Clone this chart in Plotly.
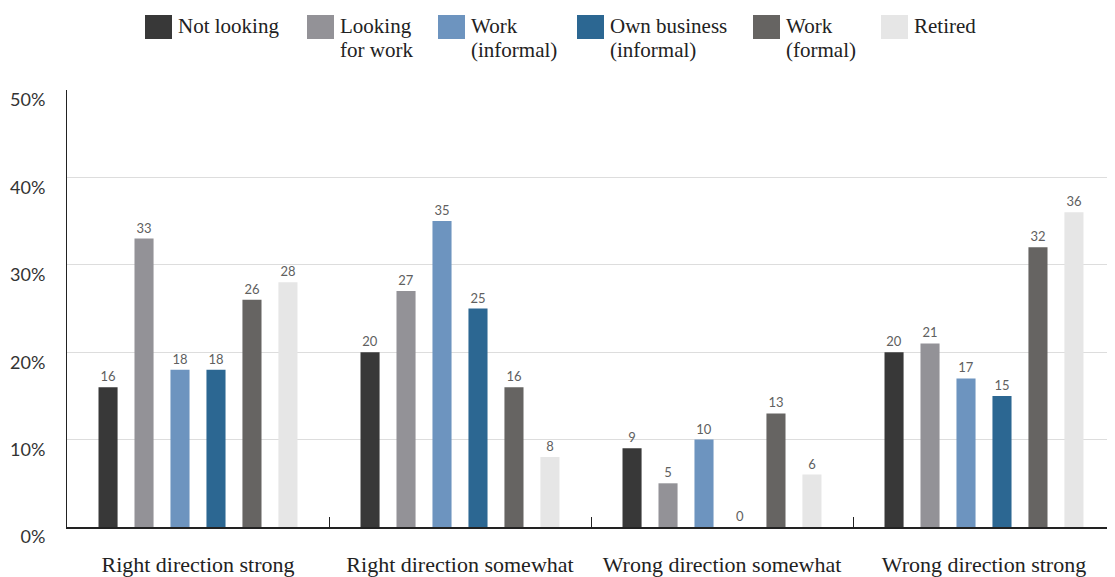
import plotly.graph_objects as go

categories = ["Right direction strong", "Right direction somewhat",
              "Wrong direction somewhat", "Wrong direction strong"]
series_names = ["Not looking", "Looking<br>for work", "Work<br>(informal)",
                "Own business<br>(informal)", "Work<br>(formal)", "Retired"]
series_values = [
    [16, 20, 9, 20],
    [33, 27, 5, 21],
    [18, 35, 10, 17],
    [18, 25, 0, 15],
    [26, 16, 13, 32],
    [28, 8, 6, 36],
]
colors = ["#383838", "#939297", "#6d94bf", "#2c6792", "#666462", "#e6e6e6"]
y_ticks = [0, 10, 20, 30, 40, 50]
y_tick_labels = ["0%", "10%", "20%", "30%", "40%", "50%"]

fig = go.Figure()
for name, vals, col in zip(series_names, series_values, colors):
    fig.add_trace(go.Bar(
        x=categories, y=vals, name=name.replace("<br>", " "),
        marker=dict(color=col, line=dict(width=0)),
        text=[str(v) for v in vals], textposition="outside",
        textfont=dict(family="Lato", size=13, color="#606060"),
        cliponaxis=False, showlegend=False,
    ))

# page body has an 8px margin: compensate
OFF = 8
W, H = 1115 - OFF, 577 - OFF
ml, mr, mt, mb = 67 - OFF, 0, 90 - OFF, 50
pw, ph = W - ml - mr, H - mt - mb

# custom legend (swatches + labels), screen x positions
leg_x = [145, 307, 438, 577, 753, 881]
for lx, name, col in zip(leg_x, series_names, colors):
    sx = lx - OFF
    x0 = (sx - ml) / pw
    x1 = (sx + 27 - ml) / pw
    y0 = (H - mb - (39 - OFF)) / ph
    y1 = (H - mb - (15 - OFF)) / ph
    fig.add_shape(type="rect", xref="paper", yref="paper", x0=x0, x1=x1,
                  y0=y0, y1=y1, fillcolor=col, line=dict(width=0))
    for i, line in enumerate(name.split("<br>")):
        cy = 26 + 24 * i - OFF
        fig.add_annotation(xref="paper", yref="paper", x=(sx + 31 - ml) / pw,
                           y=(H - mb - cy) / ph, xanchor="left", yanchor="middle",
                           text=line, showarrow=False, align="left",
                           font=dict(family="Liberation Serif", size=21, color="#222222"))

fig.update_layout(
    width=W, height=H,
    margin=dict(l=ml, r=mr, t=mt, b=mb, pad=0, autoexpand=False),
    plot_bgcolor="white", paper_bgcolor="white",
    barmode="group", bargap=0.176, bargroupgap=0.47,
    showlegend=False,
    xaxis=dict(
        type="category", tickson="boundaries", ticks="inside", ticklen=10,
        tickcolor="#222222", tickwidth=1, automargin=False,
        showline=True, linecolor="#222222", linewidth=1.5,
        tickfont=dict(family="Liberation Serif", size=22, color="#222222"),
        ticklabelstandoff=17, showgrid=False,
    ),
    yaxis=dict(
        range=[0, 50], tickvals=y_ticks, ticktext=y_tick_labels,
        showgrid=True, gridcolor="#dddddd", gridwidth=1, automargin=False,
        showline=True, linecolor="#222222", linewidth=1,
        zeroline=False, ticks="",
        tickfont=dict(family="Lato", size=18, color="#333333"),
        ticklabelstandoff=17, ticklabelshift=10,
    ),
)

fig.write_html("out.html")
